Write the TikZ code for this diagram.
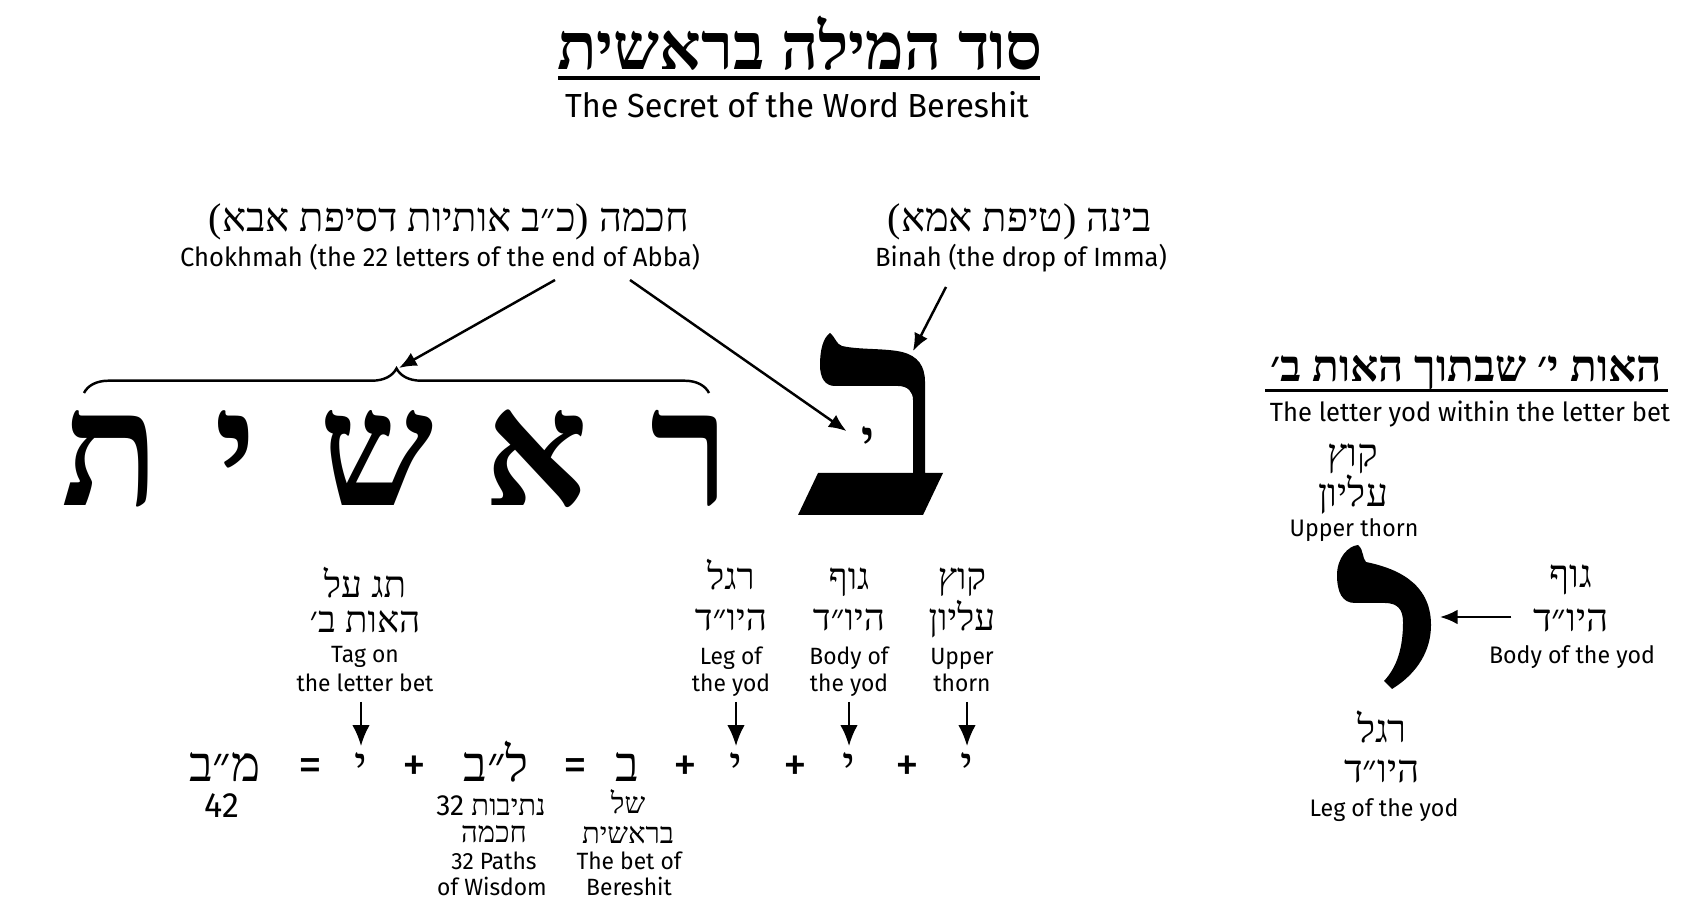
\documentclass[tikz,border=0pt]{standalone}
\usepackage{fontspec}
\setmainfont{Fira Sans}[FakeStretch=0.97]
\newfontfamily\hebfont[Script=Hebrew]{Liberation Serif}
\TeXXeTstate=1
\usetikzlibrary{arrows.meta,decorations.pathreplacing,positioning}
\newcommand{\heb}[1]{{\hebfont\beginR#1\endR}}

\begin{document}
\begin{tikzpicture}[x=0.1mm,y=-0.1mm,
  every node/.style={inner sep=0pt,anchor=base},
  hebtitle/.style={font=\bfseries\fontsize{18.5}{18.5}\selectfont},
  hebhead/.style={font=\bfseries\fontsize{12.5}{12.5}\selectfont},
  subtitle/.style={font=\fontsize{9.5}{9.5}\selectfont},
  hebtop/.style={font=\fontsize{11.4}{11.4}\selectfont},
  entop/.style={font=\fontsize{7.5}{7.5}\selectfont},
  heblbl/.style={font=\fontsize{10.5}{10.5}\selectfont},
  hebside/.style={font=\fontsize{11}{11}\selectfont},
  hebunder/.style={font=\fontsize{8.3}{8.3}\selectfont},
  enside/.style={font=\fontsize{6.8}{6.8}\selectfont},
  ensmall/.style={font=\fontsize{6.7}{6.7}\selectfont,text depth=1.6pt},
  bigletter/.style={font=\bfseries\fontsize{46}{46}\selectfont},
  eqheb/.style={font=\fontsize{14}{14}\selectfont},
  eqop/.style={font=\fontsize{14}{14}\selectfont},
  arr/.style={-{Latex[length=5pt,width=4.2pt]},line width=0.7pt},
  downarr/.style={-{Latex[length=6pt,width=5pt]},line width=0.7pt,shorten <=1pt,shorten >=1.5pt}]
\fill[white] (0,0) rectangle (1708,921);
\useasboundingbox (0,0) rectangle (1708,921);

% title
\node[hebtitle] (title) at (800,70) {\heb{סוד המילה בראשית}};
\draw[line width=1.4pt] (558,78)--(1040,78);
\node[subtitle] (subtitle) at (797,118) {The Secret of the Word Bereshit};

% chokhmah and binah
\node[hebtop] (chokHe) at (449,232) {\heb{חכמה (כ״ב אותיות דסיפת אבא)}};
\node[entop] (chokEn) at (440,267) {Chokhmah (the 22 letters of the end of Abba)};
\node[hebtop] (binahHe) at (1020,232) {\heb{בינה (טיפת אמא)}};
\node[entop] (binahEn) at (1021,267) {Binah (the drop of Imma)};
\coordinate (chokL) at (555,280);
\coordinate (chokR) at (630,280);
\coordinate (binahS) at (946,287);
\coordinate (betTop) at (913,351);

% the word
\coordinate (braceL) at (84,393);
\coordinate (braceR) at (709,393);
\coordinate (braceTip) at (399,368);
\draw[decorate,decoration={brace,amplitude=7pt},line width=0.7pt] (braceL) -- (braceR);
\node[bigletter] (bigTav) at (111,506) {\heb{ת}};
\node[bigletter] (bigYod) at (236,506) {\heb{י}};
\node[bigletter] (bigShin) at (377,506) {\heb{ש}};
\node[bigletter] (bigAlef) at (536,506) {\heb{א}};
\node[bigletter] (bigResh) at (690,506) {\heb{ר}};
% big bet
\fill (830,333) .. controls (836,338) and (836,344) .. (842,346)
  .. controls (860,350) and (885,348) .. (902,352)
  .. controls (918,356) and (925,366) .. (925,382)
  -- (925,473) -- (943,473) -- (923,515) -- (798,515) -- (818,473) -- (913,473)
  -- (913,400) .. controls (913,392) and (908,386) .. (898,386)
  -- (835,386) .. controls (825,386) and (820,378) .. (820,365)
  .. controls (820,350) and (823,338) .. (830,333) -- cycle;
\node[font=\bfseries\fontsize{14}{14}\selectfont,anchor=north] (innerYod) at (868,426) {\heb{י}};
\draw[arr] (chokL) -- (braceTip);
\draw[arr,shorten >=5pt] (chokR) -- (innerYod.west);
\draw[arr] (binahS) -- (betTop);

% labels over the equation
\node[heblbl] (tagHeA) at (365,598) {\heb{תג על}};
\node[heblbl] (tagHeB) at (365,633) {\heb{האות ב׳}};
\node[ensmall] (tagEnA) at (365,663) {Tag on};
\node[ensmall] (tagEnB) at (365,692) {the letter bet};
\node[heblbl] (legHeA) at (731,590) {\heb{רגל}};
\node[heblbl] (legHeB) at (731,631) {\heb{היו״ד}};
\node[ensmall] (legEnA) at (731,665) {Leg of};
\node[ensmall] (legEnB) at (731,692) {the yod};
\node[heblbl] (bodyHeA) at (849,590) {\heb{גוף}};
\node[heblbl] (bodyHeB) at (849,631) {\heb{היו״ד}};
\node[ensmall] (bodyEnA) at (849,665) {Body of};
\node[ensmall] (bodyEnB) at (849,692) {the yod};
\node[heblbl] (thornHeA) at (962,590) {\heb{קוץ}};
\node[heblbl] (thornHeB) at (962,631) {\heb{עליון}};
\node[ensmall] (thornEnA) at (962,665) {Upper};
\node[ensmall] (thornEnB) at (962,692) {thorn};

% equation
\node[eqheb] (eqMB) at (225,781) {\heb{מ״ב}};
\node[eqop] (eqIsA) at (310,781) {=};
\node[eqheb] (eqYodA) at (361,781) {\heb{י}};
\node[eqop] (eqPlusA) at (414,781) {+};
\node[eqheb] (eqLB) at (496,781) {\heb{ל״ב}};
\node[eqop] (eqIsB) at (575,781) {=};
\node[eqheb] (eqBet) at (627,781) {\heb{ב}};
\node[eqop] (eqPlusB) at (685,781) {+};
\node[eqheb] (eqYodB) at (736,781) {\heb{י}};
\node[eqop] (eqPlusC) at (795,781) {+};
\node[eqheb] (eqYodC) at (849,781) {\heb{י}};
\node[eqop] (eqPlusD) at (907,781) {+};
\node[eqheb] (eqYodD) at (967,781) {\heb{י}};
\draw[downarr] (tagEnB.south -| eqYodA.north) -- (eqYodA.north);
\draw[downarr] (legEnB.south -| eqYodB.north) -- (eqYodB.north);
\draw[downarr] (bodyEnB.south -| eqYodC.north) -- (eqYodC.north);
\draw[downarr] (thornEnB.south -| eqYodD.north) -- (eqYodD.north);

% labels under the equation
\node[font=\fontsize{10}{10}\selectfont] (num42) at (222,817) {42};
\node[hebunder] (pathHeA) at (491,815) {\heb{נתיבות \beginL{\rmfamily 32}\endL}};
\node[hebunder] (pathHeB) at (494,842) {\heb{חכמה}};
\node[ensmall] (pathEnA) at (494,869) {32 Paths};
\node[ensmall] (pathEnB) at (492,895) {of Wisdom};
\node[hebunder] (betHeA) at (628,813) {\heb{של}};
\node[hebunder] (betHeB) at (628,843) {\heb{בראשית}};
\node[ensmall] (betEnA) at (629,869) {The bet of};
\node[ensmall] (betEnB) at (629,895) {Bereshit};

% the yod within the bet
\node[hebhead] (rHead) at (1466,382) {\heb{האות י׳ שבתוך האות ב׳}};
\draw[line width=0.85pt] (1265,391)--(1668,391);
\node[entop] (rSub) at (1470,422) {The letter yod within the letter bet};
\node[hebside] (rThornHeA) at (1353,467) {\heb{קוץ}};
\node[hebside] (rThornHeB) at (1353,507) {\heb{עליון}};
\node[enside] (rThornEn) at (1354,537) {Upper thorn};
\fill (1358,545) .. controls (1364,550) and (1362,558) .. (1366,562)
  .. controls (1395,568) and (1431,582) .. (1431,625)
  .. controls (1431,650) and (1418,673) .. (1392,689)
  -- (1384,681)
  .. controls (1397,667) and (1403,648) .. (1403,622)
  .. controls (1403,610) and (1398,603) .. (1385,603)
  -- (1355,603)
  .. controls (1342,603) and (1337,592) .. (1337,575)
  .. controls (1337,558) and (1348,546) .. (1358,545) -- cycle;
\node[hebside] (rBodyHeA) at (1571,588) {\heb{גוף}};
\node[hebside] (rBodyHeB) at (1571,632) {\heb{היו״ד}};
\node[enside] (rBodyEn) at (1572,664) {Body of the yod};
\coordinate (yodBody) at (1440,617);
\draw[arr,shorten <=6pt] (rBodyHeB.west |- yodBody) -- (yodBody);
\node[hebside] (rLegHeA) at (1382,743) {\heb{רגל}};
\node[hebside] (rLegHeB) at (1382,782) {\heb{היו״ד}};
\node[enside] (rLegEn) at (1384,816) {Leg of the yod};
\end{tikzpicture}
\end{document}
